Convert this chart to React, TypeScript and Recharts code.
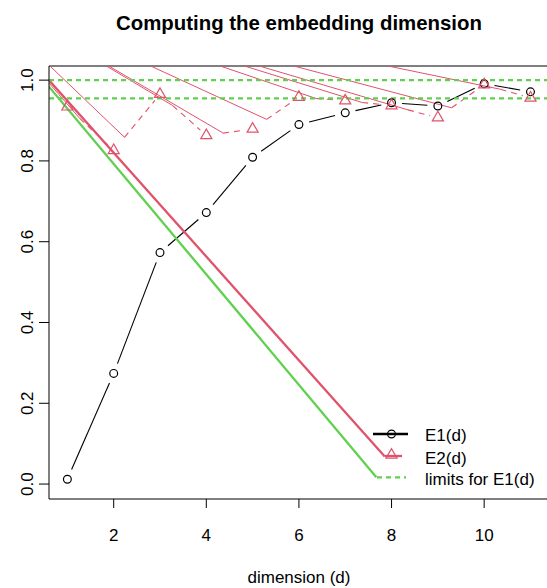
import { ComposedChart, Line, ReferenceLine, XAxis, YAxis } from "recharts";

// values
const DIMENSIONS = [1, 2, 3, 4, 5, 6, 7, 8, 9, 10, 11];
const E1_VALUES = [0.012, 0.274, 0.573, 0.672, 0.809, 0.89, 0.919, 0.944, 0.936, 0.991, 0.971];
const E2_VALUES = [0.934, 0.826, 0.965, 0.863, 0.879, 0.958, 0.949, 0.937, 0.907, 0.989, 0.956];
const E1_LIMITS = [0.955, 1.0];
const X_TICKS = [2, 4, 6, 8, 10];
const Y_TICKS = [0, 0.2, 0.4, 0.6, 0.8, 1.0];

// stray strokes in the original all leave from one point up-left of the box
const STRAY_FROM = { x: -1.39, y: 1.256 };
const RED_STROKE_END = { x: 7.853, y: 0.068 };
const GREEN_STROKE_END = { x: 7.672, y: 0.017 };

const X_DOMAIN: [number, number] = [0.603, 11.4];
const Y_DOMAIN: [number, number] = [-0.037, 1.035];

const RED = "#DF536B";
const GREEN = "#61D04F";
const FONT = "'Liberation Sans', Arial, Helvetica, sans-serif";

const CHART_W = 552;
const CHART_H = 588;
const PLOT_LEFT = 49;
const PLOT_TOP = 66;
const PLOT_W = 500;
const PLOT_H = 433;

const PX_X = PLOT_W / (X_DOMAIN[1] - X_DOMAIN[0]);
const PX_Y = PLOT_H / (Y_DOMAIN[1] - Y_DOMAIN[0]);

type Pt = { x: number; y: number };

// R type="b": segments stop short of the symbols
function gappedSegments(ys: number[], startGap: number, endGap: number) {
  const segs: Pt[][] = [];
  for (let i = 0; i < DIMENSIONS.length - 1; i++) {
    const dx = (DIMENSIONS[i + 1] - DIMENSIONS[i]) * PX_X;
    const dy = (ys[i + 1] - ys[i]) * PX_Y;
    const len = Math.hypot(dx, dy);
    if (len <= startGap + endGap) continue;
    const ux = dx / len;
    const uy = dy / len;
    segs.push([
      { x: DIMENSIONS[i] + (ux * startGap) / PX_X, y: ys[i] + (uy * startGap) / PX_Y },
      { x: DIMENSIONS[i + 1] - (ux * endGap) / PX_X, y: ys[i + 1] - (uy * endGap) / PX_Y },
    ]);
  }
  return segs;
}

const e1Points = DIMENSIONS.map((x, i) => ({ x, y: E1_VALUES[i] }));
const e2Points = DIMENSIONS.map((x, i) => ({ x, y: E2_VALUES[i] }));
const e1Segments = gappedSegments(E1_VALUES, 10.5, 10.5);
const e2Segments = gappedSegments(E2_VALUES, 17, 8);
const strayLines = e2Segments.map((seg) => [STRAY_FROM, seg[0]]);

function triangle(cx: number, cy: number, r = 6.4) {
  return `${cx},${cy - r} ${cx - r * 0.866},${cy + r / 2} ${cx + r * 0.866},${cy + r / 2}`;
}

const renderCircle = (p: any) => (
  <circle key={`c-${p.index}`} cx={p.cx} cy={p.cy} r={3.9} fill="none" stroke="#000" strokeWidth={1.2} />
);

const renderTriangle = (p: any) => (
  <polygon key={`t-${p.index}`} points={triangle(p.cx, p.cy)} fill="none" stroke={RED} strokeWidth={1.2} />
);

const XTick = (p: any) => (
  <text x={p.x} y={541} textAnchor="middle" fontSize={17} fontFamily={FONT} fill="#000">
    {p.payload.value}
  </text>
);

const YTick = (p: any) => (
  <text
    x={33.5}
    y={p.y}
    transform={`rotate(-90 33.5 ${p.y})`}
    textAnchor="middle"
    fontSize={17}
    fontFamily={FONT}
    fill="#000"
  >
    {Number(p.payload.value).toFixed(1)}
  </text>
);

export default function App() {
  return (
    <div
      style={{
        position: "absolute",
        left: 0,
        top: 0,
        width: 547,
        height: 588,
        overflow: "hidden",
        background: "#fff",
      }}
    >
      <ComposedChart
        width={CHART_W}
        height={CHART_H}
        margin={{ top: PLOT_TOP, right: CHART_W - PLOT_LEFT - PLOT_W, bottom: 0, left: 0 }}
      >
        <XAxis
          dataKey="x"
          type="number"
          domain={X_DOMAIN}
          allowDataOverflow
          ticks={X_TICKS}
          height={CHART_H - PLOT_TOP - PLOT_H}
          tickSize={9}
          axisLine={{ stroke: "#000" }}
          tickLine={{ stroke: "#000" }}
          tick={XTick}
        />
        <YAxis
          type="number"
          domain={Y_DOMAIN}
          allowDataOverflow
          ticks={Y_TICKS}
          width={PLOT_LEFT}
          tickSize={10}
          axisLine={{ stroke: "#000" }}
          tickLine={{ stroke: "#000" }}
          tick={YTick}
        />
        <ReferenceLine y={Y_DOMAIN[1]} stroke="#000" strokeWidth={1} />

        {e1Segments.map((seg, i) => (
          <Line
            key={`e1-${i}`}
            data={seg}
            dataKey="y"
            stroke="#000"
            strokeWidth={1.1}
            dot={false}
            activeDot={false}
            isAnimationActive={false}
          />
        ))}
        <Line data={e1Points} dataKey="y" stroke="none" dot={renderCircle} activeDot={false} isAnimationActive={false} />

        {strayLines.map((seg, i) => (
          <Line
            key={`stray-${i}`}
            data={seg}
            dataKey="y"
            stroke={RED}
            strokeWidth={1}
            dot={false}
            activeDot={false}
            isAnimationActive={false}
          />
        ))}
        {e2Segments.map((seg, i) => (
          <Line
            key={`e2-${i}`}
            data={seg}
            dataKey="y"
            stroke={RED}
            strokeWidth={1.1}
            strokeDasharray="6 5"
            dot={false}
            activeDot={false}
            isAnimationActive={false}
          />
        ))}
        <Line data={e2Points} dataKey="y" stroke="none" dot={renderTriangle} activeDot={false} isAnimationActive={false} />

        <Line
          data={[STRAY_FROM, RED_STROKE_END]}
          dataKey="y"
          stroke={RED}
          strokeWidth={2.3}
          dot={false}
          activeDot={false}
          isAnimationActive={false}
        />
        <Line
          data={[STRAY_FROM, GREEN_STROKE_END]}
          dataKey="y"
          stroke={GREEN}
          strokeWidth={2.3}
          dot={false}
          activeDot={false}
          isAnimationActive={false}
        />

        {E1_LIMITS.map((v) => (
          <ReferenceLine key={`lim-${v}`} y={v} stroke={GREEN} strokeWidth={2.3} strokeDasharray="5 4" />
        ))}
      </ComposedChart>

      <svg
        width={547}
        height={588}
        style={{ position: "absolute", left: 0, top: 0, pointerEvents: "none" }}
        fontFamily={FONT}
      >
        <text x={299} y={29.5} textAnchor="middle" fontSize={20.4} fontWeight="bold" fill="#000">
          Computing the embedding dimension
        </text>
        <text x={299} y={583} textAnchor="middle" fontSize={17} fill="#000">
          dimension (d)
        </text>

        <line x1={373} y1={434} x2={408} y2={434} stroke="#000" strokeWidth={2.3} />
        <circle cx={391.5} cy={434} r={3.9} fill="none" stroke="#000" strokeWidth={1.2} />
        <text x={425} y={441} fontSize={17} fill="#000">E1(d)</text>

        <line x1={385} y1={456} x2={402} y2={456} stroke={RED} strokeWidth={2.3} />
        <polygon points={triangle(391.5, 455)} fill="none" stroke={RED} strokeWidth={1.2} />
        <text x={425} y={464} fontSize={17} fill="#000">E2(d)</text>

        <line x1={377} y1={477.3} x2={406} y2={477.3} stroke={GREEN} strokeWidth={2.3} strokeDasharray="5 4" />
        <text x={425} y={485} fontSize={17} fill="#000">limits for E1(d)</text>
      </svg>
    </div>
  );
}
